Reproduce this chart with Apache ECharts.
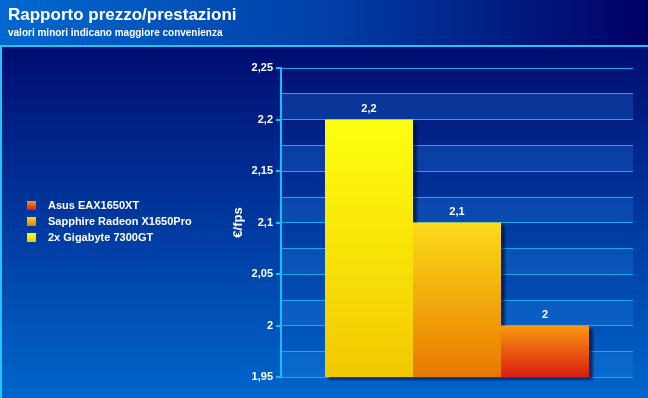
<!DOCTYPE html>
<html lang="it">
<head>
    <meta charset="UTF-8">
    <title>Rapporto prezzo/prestazioni</title>
    <style>
        body { margin: 0; overflow: hidden; }
        #chart { width: 648px; height: 398px; }
    </style>
</head>
<body>
    <div id="chart"></div>
    <script src="https://cdn.jsdelivr.net/npm/echarts@6/dist/echarts.min.js"></script>
    <script>
        // dati
        var categories = [''];
        var seriesNames = ['2x Gigabyte 7300GT', 'Sapphire Radeon X1650Pro', 'Asus EAX1650XT'];
        var values = [2.2, 2.1, 2.0];
        var legendOrder = ['Asus EAX1650XT', 'Sapphire Radeon X1650Pro', '2x Gigabyte 7300GT'];

        // colori barre: [alto, basso]
        var barColors = [
            ['#ffff10', '#f2c800'],
            ['#fcdc1c', '#e87800'],
            ['#fa9a10', '#d81c10']
        ];

        function fmt(v) {
            return String(+(+v).toFixed(3)).replace('.', ',');
        }

        function grad(top, bottom) {
            return new echarts.graphic.LinearGradient(0, 0, 0, 1, [
                { offset: 0, color: top },
                { offset: 1, color: bottom }
            ]);
        }

        var myChart = echarts.init(document.getElementById('chart'));

        var series = seriesNames.map(function (name, i) {
            return {
                name: name,
                type: 'bar',
                yAxisIndex: 0,
                barGap: '0%',
                barCategoryGap: '25%',
                data: [values[i]],
                itemStyle: {
                    color: grad(barColors[i][0], barColors[i][1]),
                    shadowColor: 'rgba(0,0,40,0.55)',
                    shadowOffsetX: 4,
                    shadowOffsetY: 3,
                    shadowBlur: 2
                },
                label: {
                    show: true,
                    position: 'top',
                    distance: 5,
                    color: '#fff',
                    fontFamily: 'Liberation Sans',
                    fontWeight: 'bold',
                    fontSize: 11,
                    formatter: function (p) { return fmt(p.value); }
                }
            };
        });

        var option = {
            animation: false,
            backgroundColor: grad('#000066', '#0066cc'),
            graphic: [
                {
                    type: 'rect',
                    shape: { x: 0, y: 0, width: 648, height: 45 },
                    style: {
                        fill: new echarts.graphic.LinearGradient(0, 0, 1, 0, [
                            { offset: 0, color: '#0068d0' },
                            { offset: 0.5, color: '#0040a8' },
                            { offset: 1, color: '#000064' }
                        ])
                    },
                    z: -1
                },
                {
                    type: 'rect',
                    shape: { x: 0, y: 45, width: 648, height: 2 },
                    style: { fill: '#22c4f4' }
                },
                {
                    type: 'rect',
                    shape: { x: 0, y: 45, width: 2, height: 353 },
                    style: { fill: '#22c4f4' }
                }
            ],
            title: {
                text: 'Rapporto prezzo/prestazioni',
                subtext: 'valori minori indicano maggiore convenienza',
                left: 8,
                top: 7,
                itemGap: 4,
                padding: 0,
                textStyle: {
                    color: '#fff',
                    fontFamily: 'Liberation Sans',
                    fontWeight: 'bold',
                    fontSize: 17
                },
                subtextStyle: {
                    color: '#fff',
                    fontFamily: 'Liberation Sans',
                    fontWeight: 'bold',
                    fontSize: 10
                }
            },
            legend: {
                data: legendOrder,
                orient: 'vertical',
                left: 27,
                top: 200,
                padding: 0,
                itemWidth: 9,
                itemHeight: 9,
                itemGap: 5,
                icon: 'rect',
                textStyle: {
                    color: '#fff',
                    fontFamily: 'Liberation Sans',
                    fontWeight: 'bold',
                    fontSize: 11,
                    padding: [0, 0, 0, 7]
                }
            },
            grid: {
                left: 281,
                right: 15,
                top: 68,
                bottom: 21
            },
            xAxis: {
                type: 'category',
                data: categories,
                axisLine: { show: false },
                axisTick: { show: false },
                axisLabel: { show: false },
                splitLine: { show: false }
            },
            yAxis: [
                {
                    type: 'value',
                    min: 1.95,
                    max: 2.25,
                    interval: 0.05,
                    name: '€/fps',
                    nameLocation: 'middle',
                    nameRotate: 90,
                    nameGap: 36,
                    nameMoveOverlap: false,
                    nameTextStyle: {
                        color: '#fff',
                        fontFamily: 'Liberation Sans',
                        fontWeight: 'bold',
                        fontSize: 13
                    },
                    axisLine: { show: true, lineStyle: { color: '#10c0f8', width: 2 } },
                    axisTick: { show: true, length: 5, lineStyle: { color: '#10c0f8', width: 2 } },
                    axisLabel: {
                        color: '#fff',
                        fontFamily: 'Liberation Sans',
                        fontWeight: 'bold',
                        fontSize: 11,
                        margin: 8,
                        formatter: fmt
                    },
                    splitLine: { show: false },
                    z: 3
                },
                {
                    type: 'value',
                    position: 'left',
                    min: 1.95,
                    max: 2.25,
                    interval: 0.025,
                    axisLine: { show: false },
                    axisTick: { show: false },
                    axisLabel: { show: false },
                    splitLine: { show: true, lineStyle: { color: '#1aa8ec', width: 1 } },
                    splitArea: {
                        show: true,
                        areaStyle: { color: ['rgba(40,140,235,0.24)', 'rgba(0,0,0,0)'] }
                    }
                }
            ],
            series: series
        };

        myChart.setOption(option);
    </script>
</body>
</html>
